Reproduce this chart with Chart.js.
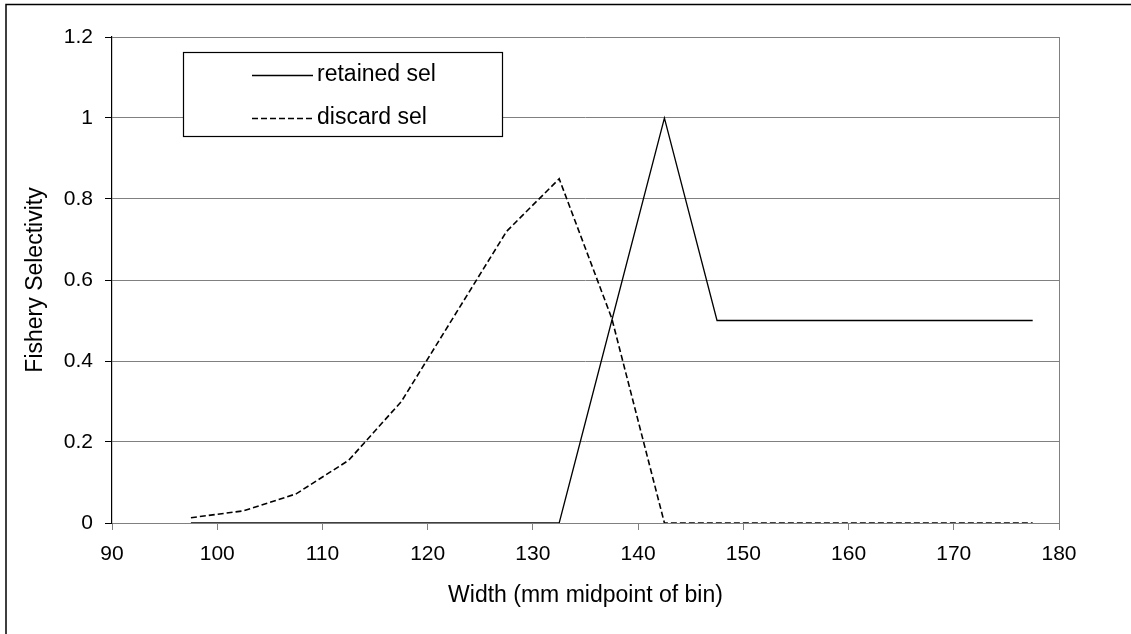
<!DOCTYPE html>
<html>
<head>
<meta charset="utf-8">
<script src="https://cdn.jsdelivr.net/npm/chart.js@4/dist/chart.umd.min.js"></script>
<style>
html,body{margin:0;padding:0;background:#fff;}
canvas{display:block;}
</style>
</head>
<body>
<canvas id="c" width="1131" height="634"></canvas>
<script>
// ---- data ----
const widths = [97.5, 102.5, 107.5, 112.5, 117.5, 122.5, 127.5, 132.5, 137.5, 142.5, 147.5, 152.5, 157.5, 162.5, 167.5, 172.5, 177.5];
const retainedSel = [0, 0, 0, 0, 0, 0, 0, 0, 0.5, 1, 0.5, 0.5, 0.5, 0.5, 0.5, 0.5, 0.5];
const discardSel = [0.013, 0.03, 0.072, 0.155, 0.3, 0.51, 0.72, 0.85, 0.505, 0, 0, 0, 0, 0, 0, 0, 0];
const seriesNames = ["retained sel", "discard sel"];
const xTicks = [90, 100, 110, 120, 130, 140, 150, 160, 170, 180];
const yTickLabels = ["0", "0.2", "0.4", "0.6", "0.8", "1", "1.2"];
const xTitle = "Width (mm midpoint of bin)";
const yTitle = "Fishery Selectivity";

const FONT = "'Liberation Sans', Arial, sans-serif";
const FS_TICK = 21;
const FS_TEXT = 23;

function pts(ys) { return widths.map((w, i) => ({x: w, y: ys[i]})); }

const framePlugin = {
  id: 'frame',
  afterDraw(chart) {
    const ctx = chart.ctx;
    const ca = chart.chartArea;
    ctx.save();
    // plot area right border
    ctx.strokeStyle = '#808080';
    ctx.lineWidth = 1;
    ctx.beginPath();
    ctx.moveTo(Math.round(ca.right) + 0.5, ca.top);
    ctx.lineTo(Math.round(ca.right) + 0.5, ca.bottom + 7);
    ctx.stroke();
    // outer frame (top and left)
    ctx.strokeStyle = '#000';
    ctx.lineWidth = 1.5;
    ctx.beginPath();
    ctx.moveTo(1131, 4.5);
    ctx.lineTo(6, 4.5);
    ctx.lineTo(6, 634);
    ctx.stroke();
    // legend box
    const lx = 183.5, ly = 52.5, lw = 319, lh = 84;
    ctx.fillStyle = '#fff';
    ctx.fillRect(lx, ly, lw, lh);
    ctx.strokeStyle = '#000';
    ctx.lineWidth = 1.2;
    ctx.strokeRect(lx, ly, lw, lh);
    const rows = [75, 118];
    chart.data.datasets.forEach((ds, i) => {
      const y = rows[i];
      ctx.strokeStyle = ds.borderColor;
      ctx.lineWidth = ds.borderWidth;
      ctx.setLineDash(ds.borderDash || []);
      ctx.beginPath();
      ctx.moveTo(252, y + 0.5);
      ctx.lineTo(313, y + 0.5);
      ctx.stroke();
      ctx.setLineDash([]);
      ctx.fillStyle = '#000';
      ctx.font = FS_TEXT + 'px ' + FONT;
      ctx.textBaseline = 'middle';
      ctx.textAlign = 'left';
      ctx.fillText(ds.label, 317, y);
    });
    ctx.restore();
  }
};

new Chart(document.getElementById('c'), {
  type: 'scatter',
  data: {
    datasets: [
      {
        label: seriesNames[0],
        data: pts(retainedSel),
        showLine: true,
        borderColor: '#000',
        borderWidth: 1.3,
        pointRadius: 0,
        tension: 0
      },
      {
        label: seriesNames[1],
        data: pts(discardSel),
        showLine: true,
        borderColor: '#000',
        borderWidth: 1.6,
        borderDash: [6, 3],
        pointRadius: 0,
        tension: 0
      }
    ]
  },
  options: {
    responsive: false,
    animation: false,
    devicePixelRatio: 1,
    layout: { padding: { left: 0, top: 37, right: 72, bottom: 0 } },
    plugins: { legend: { display: false }, tooltip: { enabled: false } },
    scales: {
      x: {
        type: 'linear',
        min: xTicks[0],
        max: xTicks[xTicks.length - 1],
        afterBuildTicks(axis) { axis.ticks = xTicks.map(v => ({value: v})); },
        afterFit(axis) { axis.height = 111; },
        ticks: { color: '#000', font: { family: FONT, size: FS_TICK }, padding: 12, maxRotation: 0, autoSkip: false },
        grid: { drawOnChartArea: false, drawTicks: true, tickLength: 7, color: '#808080' },
        border: { color: '#808080', width: 1 },
        title: { display: true, text: xTitle, color: '#000', font: { family: FONT, size: FS_TEXT }, padding: { top: 0, bottom: 25 } }
      },
      y: {
        type: 'linear',
        min: 0,
        max: 1.2,
        afterBuildTicks(axis) { axis.ticks = yTickLabels.map(v => ({value: parseFloat(v)})); },
        afterFit(axis) { axis.width = 112; },
        ticks: { color: '#000', font: { family: FONT, size: FS_TICK }, padding: 12,
                 callback: (v, i) => yTickLabels[i] },
        grid: { color: '#808080', lineWidth: 1, tickLength: 7, tickColor: '#000' },
        border: { color: '#000', width: 1.2 },
        title: { display: true, text: yTitle, color: '#000', font: { family: FONT, size: FS_TEXT }, padding: { top: 22, bottom: 0 } }
      }
    }
  },
  plugins: [framePlugin]
});
</script>
</body>
</html>
